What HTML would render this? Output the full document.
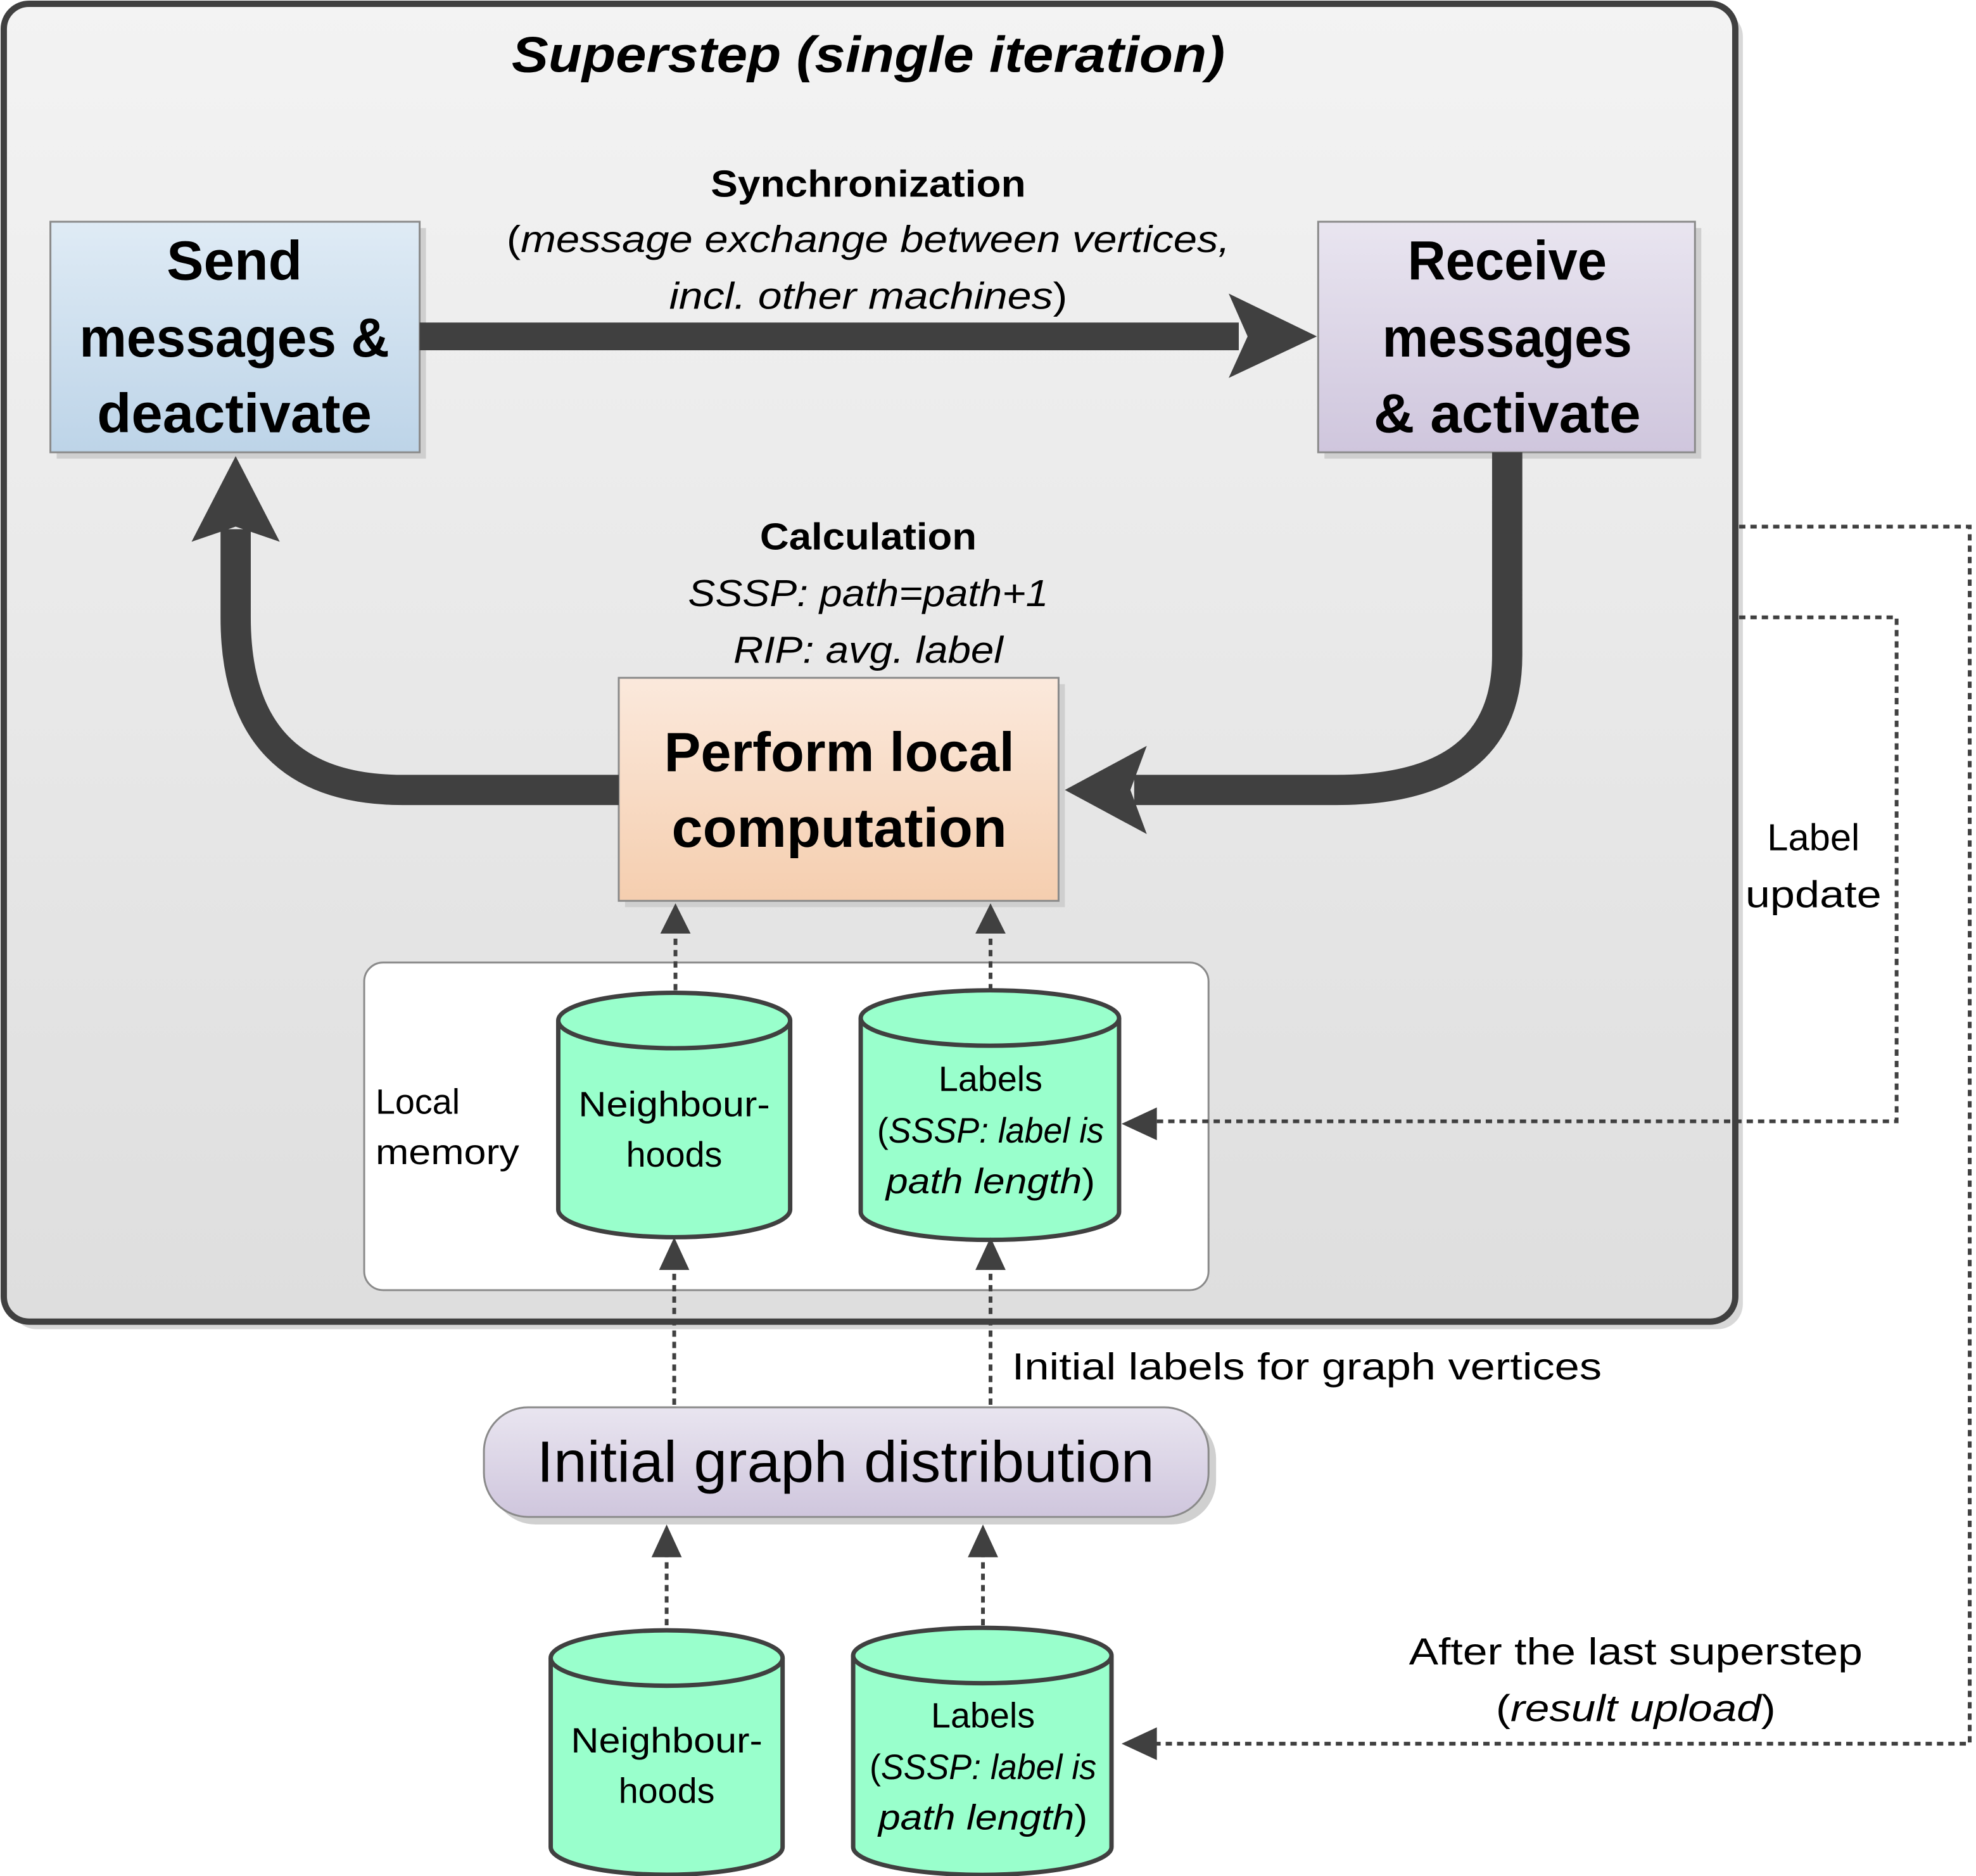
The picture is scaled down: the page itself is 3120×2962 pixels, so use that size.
<!DOCTYPE html>
<html><head><meta charset="utf-8"><style>html,body{margin:0;padding:0;background:#fff}svg{display:block}text{font-family:"Liberation Sans",sans-serif;fill:#000}</style></head><body>
<svg width="3120" height="2962" viewBox="0 0 1568 1489" preserveAspectRatio="none" xmlns="http://www.w3.org/2000/svg">
<defs>
<linearGradient id="bg" x1="0" y1="0" x2="0" y2="1"><stop offset="0" stop-color="#f3f3f3"/><stop offset="1" stop-color="#dedede"/></linearGradient>
<linearGradient id="bl" x1="0" y1="0" x2="0" y2="1"><stop offset="0" stop-color="#dfebf5"/><stop offset="1" stop-color="#bdd4e8"/></linearGradient>
<linearGradient id="lv" x1="0" y1="0" x2="0" y2="1"><stop offset="0" stop-color="#e9e5f0"/><stop offset="1" stop-color="#cfc6dd"/></linearGradient>
<linearGradient id="pc" x1="0" y1="0" x2="0" y2="1"><stop offset="0" stop-color="#fbe9dc"/><stop offset="1" stop-color="#f5ceaf"/></linearGradient>
<marker id="ah" markerWidth="10" markerHeight="10" refX="6" refY="5" orient="auto" markerUnits="userSpaceOnUse" viewBox="0 0 10 10"><path d="M0,0 L10,5 L0,10 L3,5Z" fill="#404040"/></marker>
</defs>
<rect x="9" y="9" width="1374" height="1046" rx="20" fill="#d8d8d8"/>
<rect x="3" y="3" width="1374" height="1046" rx="20" fill="url(#bg)" stroke="#404040" stroke-width="5"/>
<text x="689" y="57" font-size="40" font-weight="bold" font-style="italic" text-anchor="middle" textLength="566" lengthAdjust="spacingAndGlyphs">Superstep (single iteration)</text>
<!-- boxes -->
<rect x="45" y="181" width="293" height="183" fill="#cfcfcf"/>
<rect x="40" y="176" width="293" height="183" fill="url(#bl)" stroke="#8a8a8a" stroke-width="1.5"/>
<g font-size="44" font-weight="bold" text-anchor="middle">
<text x="186" y="222">Send</text>
<text x="186" y="283" textLength="246" lengthAdjust="spacingAndGlyphs">messages &amp;</text>
<text x="186" y="343" textLength="218" lengthAdjust="spacingAndGlyphs">deactivate</text>
</g>
<rect x="1051" y="181" width="299" height="183" fill="#cfcfcf"/>
<rect x="1046" y="176" width="299" height="183" fill="url(#lv)" stroke="#8a8a8a" stroke-width="1.5"/>
<g font-size="44" font-weight="bold" text-anchor="middle">
<text x="1196" y="222" textLength="158" lengthAdjust="spacingAndGlyphs">Receive</text>
<text x="1196" y="283" textLength="198" lengthAdjust="spacingAndGlyphs">messages</text>
<text x="1196" y="343" textLength="212" lengthAdjust="spacingAndGlyphs">&amp; activate</text>
</g>
<rect x="496" y="543" width="349" height="177" fill="#cfcfcf"/>
<rect x="491" y="538" width="349" height="177" fill="url(#pc)" stroke="#8a8a8a" stroke-width="1.5"/>
<g font-size="44" font-weight="bold" text-anchor="middle">
<text x="666" y="612" textLength="278" lengthAdjust="spacingAndGlyphs">Perform local</text>
<text x="666" y="672" textLength="266" lengthAdjust="spacingAndGlyphs">computation</text>
</g>
<!-- thick arrows -->
<rect x="333" y="256" width="650" height="22" fill="#404040"/>
<path d="M975,233 L1045,267 L975,300 L990,267Z" fill="#404040"/>
<path d="M1196,359 L1196,520 Q1196,627 1060,627 L900,627" fill="none" stroke="#404040" stroke-width="24"/>
<path d="M845,627 L910,592 L897,627 L910,662Z" fill="#404040"/>
<path d="M491,627 L320,627 Q187,627 187,490 L187,420" fill="none" stroke="#404040" stroke-width="24"/>
<path d="M187,362 L222,430 L187,418 L152,430Z" fill="#404040"/>
<g text-anchor="middle" font-size="30">
<text x="689" y="156" font-weight="bold" textLength="250" lengthAdjust="spacingAndGlyphs">Synchronization</text>
<text x="689" y="200" textLength="574" lengthAdjust="spacingAndGlyphs">(<tspan font-style="italic">message exchange between vertices,</tspan></text>
<text x="689" y="245" textLength="316" lengthAdjust="spacingAndGlyphs"><tspan font-style="italic">incl. other machines</tspan>)</text>
<text x="689" y="436" font-weight="bold" textLength="172" lengthAdjust="spacingAndGlyphs">Calculation</text>
<text x="689" y="481" font-style="italic" textLength="286" lengthAdjust="spacingAndGlyphs">SSSP: path=path+1</text>
<text x="689" y="526" font-style="italic" textLength="214" lengthAdjust="spacingAndGlyphs">RIP: avg. label</text>
</g>
<!-- local memory -->
<rect x="289" y="764" width="670" height="260" rx="15" fill="#fff" stroke="#8a8a8a" stroke-width="1.5"/>
<text x="298" y="884" font-size="28">Local</text>
<text x="298" y="924" font-size="28" textLength="114" lengthAdjust="spacingAndGlyphs">memory</text>
<g stroke="#404040" stroke-width="3.5" fill="#99ffcc">
<path d="M443,810 L443,960 A92,22 0 0 0 627,960 L627,810"/>
<ellipse cx="535" cy="810" rx="92" ry="22"/>
<path d="M683,808 L683,962 A102,22 0 0 0 888,962 L888,808"/>
<ellipse cx="785.5" cy="808" rx="102.5" ry="22"/>
<path d="M437,1316 L437,1466 A92,22 0 0 0 621,1466 L621,1316"/>
<ellipse cx="529" cy="1316" rx="92" ry="22"/>
<path d="M677,1314 L677,1466 A102,22 0 0 0 882,1466 L882,1314"/>
<ellipse cx="779.5" cy="1314" rx="102.5" ry="22"/>
</g>
<g font-size="28" text-anchor="middle">
<text x="535" y="886" textLength="152" lengthAdjust="spacingAndGlyphs">Neighbour-</text>
<text x="535" y="926">hoods</text>
<text x="786" y="866">Labels</text>
<text x="786" y="907" textLength="180" lengthAdjust="spacingAndGlyphs">(<tspan font-style="italic">SSSP: label is</tspan></text>
<text x="786" y="947" textLength="166" lengthAdjust="spacingAndGlyphs"><tspan font-style="italic">path length</tspan>)</text>
<text x="529" y="1391" textLength="152" lengthAdjust="spacingAndGlyphs">Neighbour-</text>
<text x="529" y="1431">hoods</text>
<text x="780" y="1371">Labels</text>
<text x="780" y="1412" textLength="180" lengthAdjust="spacingAndGlyphs">(<tspan font-style="italic">SSSP: label is</tspan></text>
<text x="780" y="1452" textLength="166" lengthAdjust="spacingAndGlyphs"><tspan font-style="italic">path length</tspan>)</text>
</g>
<!-- dotted arrows -->
<g stroke="#404040" stroke-width="3" stroke-dasharray="5,4" fill="none">
<line x1="536" y1="786" x2="536" y2="732"/>
<line x1="786" y1="786" x2="786" y2="732"/>
<line x1="535" y1="1115" x2="535" y2="996"/>
<line x1="786" y1="1115" x2="786" y2="996"/>
<line x1="529" y1="1290" x2="529" y2="1224"/>
<line x1="780" y1="1290" x2="780" y2="1224"/>
<polyline points="1380,418 1563,418 1563,1384 905,1384"/>
<polyline points="1380,490 1505,490 1505,890 905,890"/>
</g>
<g fill="#404040">
<path d="M536,717 L548,741 L524,741Z"/><path d="M786,717 L798,741 L774,741Z"/>
<path d="M535,982 L547,1008 L523,1008Z"/><path d="M786,982 L798,1008 L774,1008Z"/>
<path d="M529,1210 L541,1236 L517,1236Z"/><path d="M780,1210 L792,1236 L768,1236Z"/>
<path d="M890,1384 L918,1371 L918,1397Z"/><path d="M890,892 L918,879 L918,905Z"/>
</g>
<text x="803" y="1095" font-size="30" textLength="468" lengthAdjust="spacingAndGlyphs">Initial labels for  graph vertices</text>
<rect x="390" y="1123" width="575" height="87" rx="35" fill="#d0d0d0"/>
<rect x="384" y="1117" width="575" height="87" rx="35" fill="url(#lv)" stroke="#8a8a8a" stroke-width="1.5"/>
<text x="671" y="1176" font-size="46" text-anchor="middle" textLength="490" lengthAdjust="spacingAndGlyphs">Initial graph distribution</text>
<g font-size="30" text-anchor="middle">
<text x="1439" y="675">Label</text>
<text x="1439" y="720" textLength="108" lengthAdjust="spacingAndGlyphs">update</text>
<text x="1298" y="1321" textLength="360" lengthAdjust="spacingAndGlyphs">After the last superstep</text>
<text x="1298" y="1366" textLength="222" lengthAdjust="spacingAndGlyphs">(<tspan font-style="italic">result upload</tspan>)</text>
</g>
</svg>
</body></html>
